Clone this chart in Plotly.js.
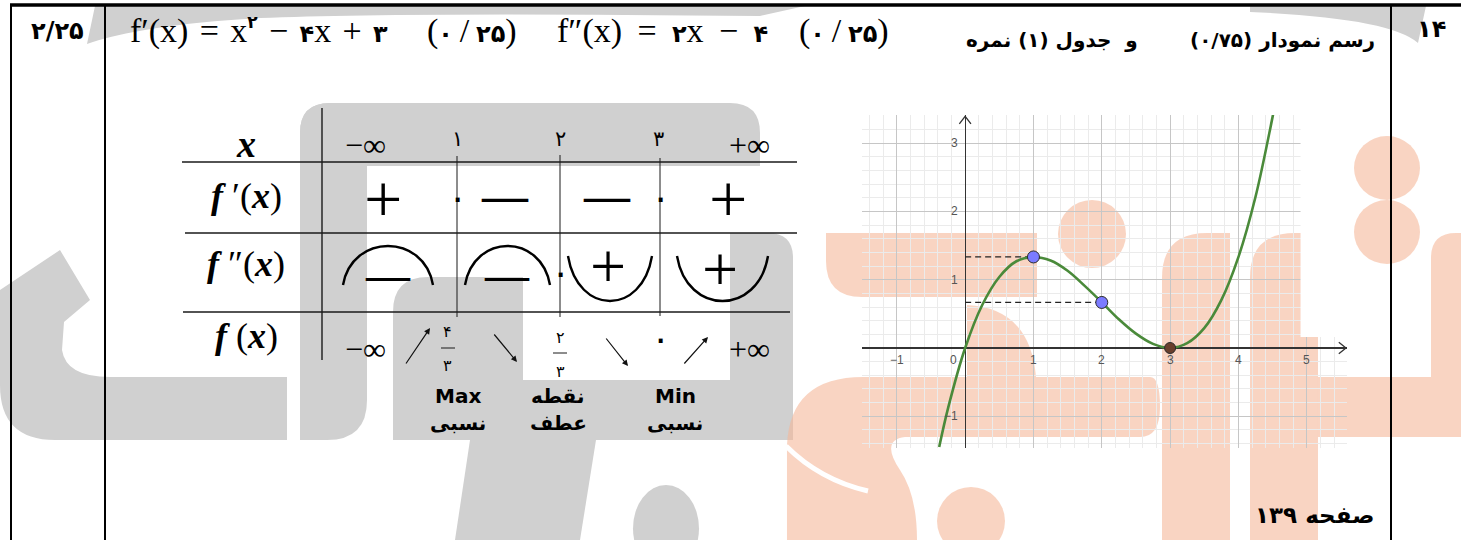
<!DOCTYPE html>
<html><head><meta charset="utf-8">
<script src="https://cdn.plot.ly/plotly-3.0.1.min.js"></script>
<style>html,body{margin:0;padding:0;background:#fff;overflow:hidden}#chart{width:1461px;height:540px}</style>
</head><body><div id="chart"></div>
<script>
// ---------- data ----------
const curveX = [-0.38,-0.25,0,0.25,0.5,0.75,1,1.25,1.5,1.75,2,2.25,2.5,2.75,3,3.25,3.5,3.75,4,4.25,4.5,4.55];
const curveY = [-1.45,-0.88,0,0.63,1.04,1.27,1.33,1.28,1.13,0.91,0.67,0.42,0.21,0.06,0,0.07,0.29,0.70,1.33,2.21,3.38,3.64];
const markedX = [1, 2];
const markedY = [1.333, 0.667];
const rootX = [3];
const rootY = [0];
const xTickVals = [-1, 0, 1, 2, 3, 4, 5];
const xTickText = ['\u22121', '0', '1', '2', '3', '4', '5'];
const yTickVals = [-1, 1, 2, 3];
const yTickText = ['\u22121', '1', '2', '3'];

const tableXHeader = ['\u2212\u221E', '\u06F1', '\u06F2', '\u06F3', '+\u221E'];
const fPrimeSigns = ['+', '\u2212', '\u2212', '+'];
const fPrimeZeros = ['\u06F0', '\u06F0'];
const fSecondSigns = ['\u2212', '\u2212', '+', '+'];
const fSecondShape = ['cap', 'cap', 'cup', 'cup'];
const fSecondZero = ['\u06F0'];
const fLimits = ['\u2212\u221E', '+\u221E'];
const fMaxFrac = ['\u06F4', '\u06F3'];
const fInflFrac = ['\u06F2', '\u06F3'];
const fMinValue = ['\u06F0'];
const pointNotes = [['Max', '\u0646\u0633\u0628\u06CC'], ['\u0646\u0642\u0637\u0647', '\u0639\u0637\u0641'], ['Min', '\u0646\u0633\u0628\u06CC']];

// ---------- helpers (pixel -> paper) ----------
const W = 1461, H = 540;
const P = s => { let i = 0; return s.replace(/-?\d+(\.\d+)?/g, m => { const v = parseFloat(m); const r = (i % 2 === 0) ? v / W : 1 - v / H; i++; return r.toFixed(5); }); };
function rr(x0, y0, x1, y1, r) {
  const [a, b, c, d] = r;
  return `M ${x0 + a} ${y0} L ${x1 - b} ${y0} Q ${x1} ${y0} ${x1} ${y0 + b} L ${x1} ${y1 - c} Q ${x1} ${y1} ${x1 - c} ${y1} L ${x0 + d} ${y1} Q ${x0} ${y1} ${x0} ${y1 - d} L ${x0} ${y0 + a} Q ${x0} ${y0} ${x0 + a} ${y0} Z`;
}
const SERIF = '"Liberation Serif", "DejaVu Sans", serif';
const SANS = '"DejaVu Sans", sans-serif';
function T(x, y, text, size, family, extra) {
  return Object.assign({ xref: 'paper', yref: 'paper', x: x / W, y: 1 - y / H, text: text, showarrow: false,
    font: { size: size, family: family, color: '#000' }, xanchor: 'center', yanchor: 'middle' }, extra || {});
}
const shapes = [];
const GRAY = '#d0d0d0', ORANGE = '#f5b799';
function blob(path, color, op) { shapes.push({ type: 'path', xref: 'paper', yref: 'paper', path: P(path), fillcolor: color, opacity: op || 1, line: { width: 0 }, layer: 'below' }); }
function disc(x0, y0, x1, y1, color, op) { shapes.push({ type: 'circle', xref: 'paper', yref: 'paper', x0: x0 / W, x1: x1 / W, y0: 1 - y1 / H, y1: 1 - y0 / H, fillcolor: color, opacity: op || 1, line: { width: 0 }, layer: 'below' }); }
function line(x0, y0, x1, y1, w, color) { shapes.push({ type: 'line', xref: 'paper', yref: 'paper', x0: x0 / W, y0: 1 - y0 / H, x1: x1 / W, y1: 1 - y1 / H, line: { width: w, color: color || '#000' }, layer: 'above' }); }

// ---------- watermark (gray) ----------
blob('M 87 44 L 95 6 L 805 6 L 760 16 Q 400 12 260 18 Q 140 25 87 44 Z', GRAY);
blob('M 1250 6 L 1426 6 L 1418 43 Q 1390 18 1250 12 Z', GRAY);
blob(rr(300, 103, 760, 166, [30, 30, 0, 0]), GRAY);
blob(rr(300, 103, 367, 440, [30, 0, 40, 0]), GRAY);
blob('M 0 290 L 60 250 L 90 300 L 64 322 L 62 350 Q 66 377 110 377 L 287 377 L 287 440 L 55 440 Q 0 440 0 385 Z', GRAY);
blob(rr(393, 277, 523, 440, [35, 0, 0, 35]), GRAY);
blob(rr(393, 380, 793, 440, [0, 0, 30, 0]), GRAY);
blob(rr(730, 233, 793, 440, [0, 25, 0, 0]), GRAY);
blob('M 470 440 L 596 440 L 580 540 L 455 540 Z', GRAY);
disc(633, 485, 699, 572, GRAY);
// ---------- watermark (orange, translucent so the grid shows through) ----------
const OP = 0.6;
blob(rr(826, 233, 1037, 297, [0, 0, 0, 36]), ORANGE, OP);
blob('M 967 305 Q 1030 308 1036 377 L 967 377 Z', ORANGE, OP);
blob('M 863 377 L 1150 377 Q 1160 377 1160 407 Q 1160 437 1140 437 L 905 437 Q 880 440 900 470 Q 917 495 917 540 L 787 540 L 787 445 Q 790 377 863 377 Z', ORANGE, OP);
shapes.push({ type: 'path', xref: 'paper', yref: 'paper', path: P('M 786 446 Q 820 480 868 491'), line: { width: 5, color: '#fff' }, layer: 'below' });
disc(937, 487, 1005, 555, ORANGE, OP);
disc(1058, 200, 1126, 268, ORANGE, OP);
blob(rr(1162, 233, 1230, 540, [45, 0, 0, 0]), ORANGE, OP);
blob(rr(1250, 233, 1318, 540, [45, 0, 0, 0]), ORANGE, OP);
blob('M 1318 377 L 1461 377 L 1461 437 L 1318 437 Z', ORANGE, OP);
blob(rr(1431, 233, 1461, 377, [25, 0, 0, 0]), ORANGE, OP);
disc(1354, 136, 1420, 200, ORANGE, OP);
disc(1354, 200, 1420, 264, ORANGE, OP);

// ---------- page frame ----------
line(10, 5, 1461, 5, 3.5);
line(11, 5, 11, 540, 2);
line(105, 5, 105, 540, 2);
line(1391, 5, 1391, 540, 2);

// ---------- variation table lines ----------
const TL = '#1a1a1a';
line(322, 108, 322, 360, 1.4, TL);
line(182, 162, 797, 162, 1.4, TL);
line(185, 233, 797, 233, 1.4, TL);
line(183, 312, 790, 312, 1.4, TL);
line(457, 156, 457, 317, 1, TL);
line(560, 155, 560, 317, 1, TL);
line(660, 158, 660, 316, 1, TL);
const arcGeom = [[343, 433], [465, 550], [568, 652], [677, 768]];
fSecondShape.forEach((k, i) => {
  const [a, b] = arcGeom[i];
  const path = k === 'cap'
    ? `M ${a} 285 C ${a + 9} 233 ${b - 9} 233 ${b} 285`
    : `M ${a} 256 C ${a + 10} 316 ${b - 10} 316 ${b} 256`;
  shapes.push({ type: 'path', xref: 'paper', yref: 'paper', path: P(path), line: { width: 2.4, color: '#000' }, layer: 'above' });
});
line(441, 348, 455, 348, 1, TL);
line(553, 353, 567, 353, 1, TL);

// ---------- annotations ----------
const ann = [];
const dg = (d, s) => `<b><span style="font-size:${s || 24}px">${d}</span></b>`;
const hs = '\u200A', ts = '\u2009', nb = '\u00A0';
ann.push(T(57, 31, '<b>\u06F2/\u06F2\u06F5</b>', 24, SANS));
ann.push(T(1431, 29, '<b>\u06F1\u06F4</b>', 24, SANS));
ann.push(T(128, 31, 'f\u2032(x)' + nb + hs + '=' + hs + nb + 'x<sup>' + dg('\u06F2', 17) + '</sup>' + nb + hs + '\u2212' + hs + nb + dg('\u06F4') + 'x' + nb + hs + '+' + hs + nb + dg('\u06F3'), 34, SERIF, { xanchor: 'left' }));
ann.push(T(425, 31, '(' + dg('\u06F0') + ts + '/' + ts + dg('\u06F2\u06F5') + ')', 34, SERIF, { xanchor: 'left' }));
ann.push(T(555, 31, 'f\u2033(x)' + nb + ts + '=' + ts + nb + dg('\u06F2') + 'x' + nb + ts + '\u2212' + ts + nb + dg('\u06F4'), 34, SERIF, { xanchor: 'left' }));
ann.push(T(797, 31, '(' + dg('\u06F0') + ts + '/' + ts + dg('\u06F2\u06F5') + ')', 34, SERIF, { xanchor: 'left' }));
ann.push(T(1377, 40, '<b>\u0631\u0633\u0645 \u0646\u0645\u0648\u062F\u0627\u0631 (\u06F0/\u06F7\u06F5)</b>', 20, SANS, { xanchor: 'right' }));
ann.push(T(1140, 40, '<b>\u0648  \u062C\u062F\u0648\u0644 (\u06F1) \u0646\u0645\u0631\u0647</b>', 20, SANS, { xanchor: 'right' }));
ann.push(T(1376, 515, '<b>\u0635\u0641\u062D\u0647 \u06F1\u06F3\u06F9</b>', 23, SANS, { xanchor: 'right' }));

// table labels
ann.push(T(246, 144, '<b><i>x</i></b>', 38, SERIF));
ann.push(T(246, 196, '<b><i>f</i></b> \u2032(<b><i>x</i></b>)', 36, SERIF));
ann.push(T(246, 264, '<b><i>f</i></b> \u2033(<b><i>x</i></b>)', 36, SERIF));
ann.push(T(246, 336, '<b><i>f</i></b> (<b><i>x</i></b>)', 36, SERIF));
const headX = [365, 457, 560, 658, 750];
tableXHeader.forEach((t, i) => {
  const isInf = t.indexOf('\u221E') >= 0;
  ann.push(T(headX[i], isInf ? 145 : 139, t, isInf ? 32 : 21, isInf ? SERIF : SANS));
});
// f' row
const signX1 = [383, 505, 607, 728];
fPrimeSigns.forEach((s, i) => {
  ann.push(s === '+' ? T(signX1[i], 199, '+', 68, SERIF) : T(signX1[i], 196, '<b>\u2014</b>', 46, SERIF));
});
[457, 660].forEach((x, i) => ann.push(T(x, 197, fPrimeZeros[i], 36, SANS)));
// f'' row
const signX2 = [388, 507, 608, 720];
const signY2 = [275, 275, 266, 269];
fSecondSigns.forEach((s, i) => {
  ann.push(s === '+' ? T(signX2[i], signY2[i], '+', 64, SERIF) : T(signX2[i], signY2[i], '<b>\u2014</b>', 44, SERIF));
});
ann.push(T(560, 272, fSecondZero[0], 36, SANS));
// f row
ann.push(T(365, 349, fLimits[0], 32, SERIF));
ann.push(T(750, 349, fLimits[1], 32, SERIF));
ann.push(T(448, 331, fMaxFrac[0], 16, SANS));
ann.push(T(448, 365, fMaxFrac[1], 16, SANS));
ann.push(T(560, 337, fInflFrac[0], 16, SANS));
ann.push(T(560, 371, fInflFrac[1], 16, SANS));
ann.push(T(660, 338, fMinValue[0], 36, SANS));
const arrows = [[430, 328, 405, 365], [517, 362, 493, 333], [628, 366, 605, 337], [708, 337, 683, 365]];
arrows.forEach(a => ann.push({ xref: 'paper', yref: 'paper', x: a[0] / W, y: 1 - a[1] / H, ax: a[2] - a[0], ay: a[3] - a[1], text: '', showarrow: true, arrowhead: 2, arrowsize: 1, arrowwidth: 1.2, arrowcolor: '#111' }));
const noteX = [458, 558, 675];
pointNotes.forEach((n, i) => {
  ann.push(T(noteX[i], 396, '<b>' + n[0] + '</b>', 20, SANS));
  ann.push(T(noteX[i], 423, '<b>' + n[1] + '</b>', 20, SANS));
});

// graph tick labels
xTickVals.forEach((v, i) => {
  ann.push({ xref: 'x', yref: 'y', x: v === 0 ? -0.17 : v, y: -0.18, text: xTickText[i], showarrow: false,
    font: { size: 12, family: '"Liberation Sans", sans-serif', color: '#555' }, xanchor: 'center', yanchor: 'middle' });
});
yTickVals.forEach((v, i) => {
  ann.push({ xref: 'x', yref: 'y', x: -0.07, y: v, text: yTickText[i], showarrow: false,
    font: { size: 12, family: '"Liberation Sans", sans-serif', color: '#555' }, xanchor: 'right', yanchor: 'middle' });
});

shapes.push({ type: 'rect', xref: 'x', yref: 'y', x0: 4.91, x1: 5.7, y0: 0.16, y1: 3.6, fillcolor: '#fff', line: { width: 0 }, layer: 'between' });
shapes.push({ type: 'path', xref: 'x', yref: 'y', path: 'M 5.47 0.085 L 5.575 0 L 5.47 -0.085', line: { width: 1.3, color: '#333' }, layer: 'above' });
shapes.push({ type: 'path', xref: 'x', yref: 'y', path: 'M -0.085 3.28 L 0 3.39 L 0.085 3.28', line: { width: 1.3, color: '#333' }, layer: 'above' });

// ---------- traces ----------
const traces = [];
markedX.forEach((x, i) => traces.push({ x: [0, x], y: [markedY[i], markedY[i]], mode: 'lines', line: { color: '#222', width: 1.2, dash: '6px,4px' }, hoverinfo: 'skip' }));
traces.push({ x: curveX, y: curveY, mode: 'lines', line: { color: '#4a8a3a', width: 2.6, shape: 'spline', smoothing: 1 }, hoverinfo: 'skip' });
traces.push({ x: markedX, y: markedY, mode: 'markers', marker: { size: 12, color: '#7b7bff', line: { color: '#2a2a2a', width: 1 } } });
traces.push({ x: rootX, y: rootY, mode: 'markers', marker: { size: 11, color: '#6a3f2c', line: { color: '#2a2a2a', width: 1 } } });

const layout = {
  width: W, height: H, margin: { l: 0, r: 0, t: 0, b: 0 }, showlegend: false,
  paper_bgcolor: '#fff', plot_bgcolor: 'rgba(0,0,0,0)',
  xaxis: { domain: [862 / W, 1347 / W], range: [-1.51, 5.59], dtick: 1, tick0: 0, showgrid: true, gridcolor: '#c6c6c6', gridwidth: 1,
    minor: { dtick: 0.2, tick0: 0, showgrid: true, gridcolor: '#ebebeb', gridwidth: 1 },
    showticklabels: false, ticks: '', zeroline: true, zerolinecolor: '#333', zerolinewidth: 1.3, showline: false, fixedrange: true },
  yaxis: { domain: [1 - 448 / H, 1 - 115 / H], range: [-1.464, 3.411], dtick: 1, tick0: 0, showgrid: true, gridcolor: '#c6c6c6', gridwidth: 1,
    minor: { dtick: 0.2, tick0: 0, showgrid: true, gridcolor: '#ebebeb', gridwidth: 1 },
    showticklabels: false, ticks: '', zeroline: true, zerolinecolor: '#333', zerolinewidth: 1.3, showline: false, fixedrange: true },
  shapes: shapes, annotations: ann
};
Plotly.newPlot('chart', traces, layout, { displayModeBar: false, staticPlot: true });
</script></body></html>
